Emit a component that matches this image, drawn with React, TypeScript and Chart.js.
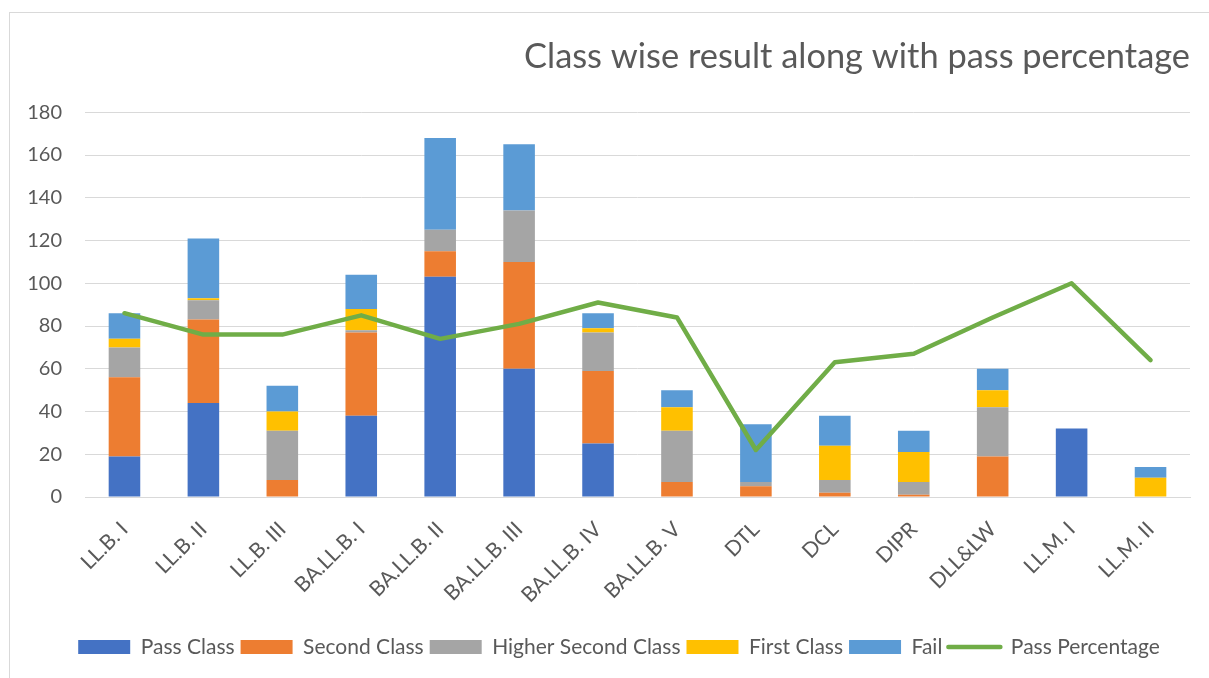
import React, { useEffect, useRef } from "react";
import { Chart, registerables } from "chart.js";

Chart.register(...registerables);

const categories = [
  "LL.B. I", "LL.B. II", "LL.B. III", "BA.LL.B. I", "BA.LL.B. II", "BA.LL.B. III", "BA.LL.B. IV",
  "BA.LL.B. V", "DTL", "DCL", "DIPR", "DLL&LW", "LL.M. I", "LL.M. II",
];
const passClass = [19, 44, 0, 38, 103, 60, 25, 0, 0, 0, 0, 0, 32, 0];
const secondClass = [37, 39, 8, 39, 12, 50, 34, 7, 5, 2, 1, 19, 0, 0];
const higherSecondClass = [14, 9, 23, 1, 10, 24, 18, 24, 2, 6, 6, 23, 0, 0];
const firstClass = [4, 1, 9, 10, 0, 0, 2, 11, 0, 16, 14, 8, 0, 9];
const fail = [12, 28, 12, 16, 43, 31, 7, 8, 27, 14, 10, 10, 0, 5];
const passPercentage = [86, 76, 76, 85, 74, 81, 91, 84, 22, 63, 67, 84, 100, 64];
const yTicks = [0, 20, 40, 60, 80, 100, 120, 140, 160, 180];

const FONT = "Lato";
const TEXT = "#595959";
const GRID = "#d9d9d9";

const borderPlugin = {
  id: "outerBorder",
  beforeDraw(chart: any) {
    const ctx = chart.ctx;
    ctx.save();
    ctx.fillStyle = "#ffffff";
    ctx.fillRect(0, 0, chart.width, chart.height);
    ctx.strokeStyle = GRID;
    ctx.lineWidth = 1;
    ctx.strokeRect(9.5, 12.5, 1300, 800);
    ctx.restore();
  },
};

export default function App() {
  const ref = useRef<HTMLCanvasElement | null>(null);
  useEffect(() => {
    if (!ref.current) return;
    const bar = (label: string, data: number[], color: string, order: number) => ({
      type: "bar" as const,
      label,
      data,
      backgroundColor: color,
      borderWidth: 0,
      stack: "s",
      order,
      barPercentage: 0.4,
      categoryPercentage: 1,
    });
    const chart = new Chart(ref.current, {
      type: "bar",
      data: {
        labels: categories,
        datasets: [
          bar("Pass Class", passClass, "#4472C4", 1),
          bar("Second Class", secondClass, "#ED7D31", 2),
          bar("Higher Second Class", higherSecondClass, "#A5A5A5", 3),
          bar("First Class", firstClass, "#FFC000", 4),
          bar("Fail", fail, "#5B9BD5", 5),
          {
            type: "line" as const,
            label: "Pass Percentage",
            data: passPercentage,
            borderColor: "#70AD47",
            backgroundColor: "#70AD47",
            borderWidth: 4.5,
            borderCapStyle: "round",
            borderJoinStyle: "round",
            pointRadius: 0,
            pointHoverRadius: 0,
            tension: 0,
            fill: false,
            stack: "line",
            order: 0,
          } as any,
        ],
      },
      options: {
        responsive: false,
        animation: false,
        devicePixelRatio: 1,
        layout: { padding: { left: 48, right: 48, top: 0, bottom: 10.5 } },
        scales: {
          x: {
            stacked: true,
            grid: { display: false, drawTicks: false },
            border: { display: true, color: GRID, width: 1 },
            ticks: {
              color: TEXT,
              font: { family: FONT, size: 21 },
              minRotation: 45,
              maxRotation: 45,
              autoSkip: false,
              padding: 20,
              labelOffset: 0,
            },
            afterFit: (s: any) => {
              s.height = 133.5;
              s.paddingLeft = 0;
              s.paddingRight = 0;
            },
          },
          y: {
            stacked: true,
            min: 0,
            max: 180,
            grid: { color: GRID, lineWidth: 1, drawTicks: false },
            border: { display: false },
            ticks: {
              stepSize: 20,
              color: TEXT,
              font: { family: FONT, size: 20 },
              padding: 23,
              callback: (v: any) => (yTicks.includes(Number(v)) ? String(v) : ""),
            },
            afterFit: (s: any) => {
              s.width = 37;
              s.paddingTop = 0;
              s.paddingBottom = 0;
              s._computeLabelArea = () => undefined;
            },
          },
        },
        plugins: {
          title: {
            display: true,
            text: "Class wise result along with pass percentage",
            align: "end",
            color: TEXT,
            font: { family: FONT, size: 34.4, weight: "normal" },
            padding: { top: 36, bottom: 35 },
          },
          legend: {
            position: "bottom",
            labels: {
              color: TEXT,
              font: { family: FONT, size: 21 },
              usePointStyle: true,
              pointStyleWidth: 52,
              boxHeight: 14,
              padding: 6,
              generateLabels: (c: any) => {
                const items = (Chart.defaults.plugins.legend.labels as any).generateLabels(c);
                items.forEach((it: any) => {
                  if (it.datasetIndex === 5) {
                    it.pointStyle = "line";
                    it.lineWidth = 4.5;
                    it.strokeStyle = "#70AD47";
                    it.lineCap = "round";
                  } else {
                    it.pointStyle = "rect";
                    it.lineWidth = 0;
                    it.strokeStyle = it.fillStyle;
                  }
                });
                return items.sort((a: any, b: any) => a.datasetIndex - b.datasetIndex);
              },
            },
          },
          tooltip: { enabled: false },
        },
      },
      plugins: [borderPlugin],
    });
    return () => chart.destroy();
  }, []);
  return (
    <div style={{ position: "fixed", left: 0, top: 0, width: "100vw", height: "100vh", overflow: "hidden", background: "#fff" }}>
      <canvas ref={ref} width={1238} height={678} style={{ display: "block" }} />
    </div>
  );
}
